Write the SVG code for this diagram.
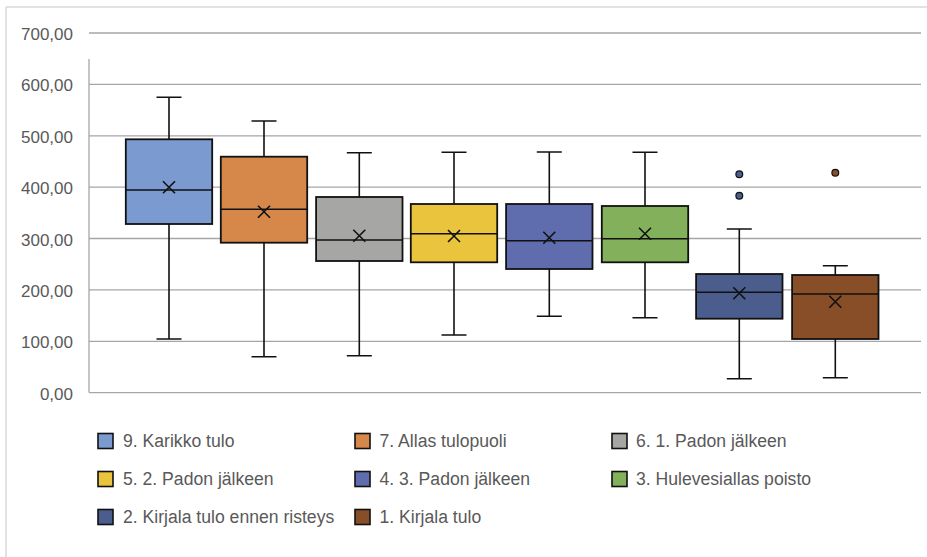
<svg xmlns="http://www.w3.org/2000/svg" width="927" height="557" viewBox="0 0 927 557">
<style>
.frame{stroke:#D9D9D9;stroke-width:1.5;fill:none}
.grid{stroke:#A6A6A6;stroke-width:1.3;fill:none}
.ylab{font-family:"Liberation Sans",Arial,sans-serif;font-size:17px;fill:#595959;text-anchor:end}
.leg{font-family:"Liberation Sans",Arial,sans-serif;font-size:17.6px;fill:#595959}
.box{stroke:#111;stroke-width:1.8}
.wh{stroke:#111;stroke-width:1.6;fill:none}
.med{stroke:#111;stroke-width:1.6}
.mean{stroke:#111;stroke-width:1.6;fill:none}
.out{stroke:#111;stroke-width:1.2}
.sw{stroke:#111;stroke-width:1.6}
.c1{fill:#7B9BD0}.c2{fill:#D6874A}.c3{fill:#A6A6A5}.c4{fill:#E9C43C}
.c5{fill:#5F6DAE}.c6{fill:#83B15B}.c7{fill:#4A5D8D}.c8{fill:#874E27}
</style>
<rect width="927" height="557" fill="#fff"/>
<g id="frame">
<line class="frame" x1="6" y1="7" x2="927" y2="7"/>
<line class="frame" x1="6" y1="7" x2="6" y2="557"/>
</g>
<g id="axis">
<line class="grid" x1="89" y1="33" x2="921" y2="33"/>
<line class="grid" x1="89" y1="84.4" x2="921" y2="84.4"/>
<line class="grid" x1="89" y1="135.8" x2="921" y2="135.8"/>
<line class="grid" x1="89" y1="187.1" x2="921" y2="187.1"/>
<line class="grid" x1="89" y1="238.5" x2="921" y2="238.5"/>
<line class="grid" x1="89" y1="289.9" x2="921" y2="289.9"/>
<line class="grid" x1="89" y1="341.3" x2="921" y2="341.3"/>
<line class="grid" x1="89" y1="392.6" x2="921" y2="392.6"/>
<line class="grid" x1="89" y1="59" x2="89" y2="392.6"/>
<text class="ylab" x="73" y="40">700,00</text>
<text class="ylab" x="73" y="91.4">600,00</text>
<text class="ylab" x="73" y="142.8">500,00</text>
<text class="ylab" x="73" y="194.1">400,00</text>
<text class="ylab" x="73" y="245.5">300,00</text>
<text class="ylab" x="73" y="296.9">200,00</text>
<text class="ylab" x="73" y="348.3">100,00</text>
<text class="ylab" x="73" y="399.6">0,00</text>
</g>
<g id="box-9-karikko-tulo">
<path class="wh" d="M169 139.3V97.3M156.5 97.3H181.5M169 224V339M156.5 339H181.5"/>
<rect class="box c1" x="125.8" y="139.3" width="86.4" height="84.7"/>
<line class="med" x1="125.8" y1="190" x2="212.2" y2="190"/>
<path class="mean" d="M163 181.3L175 193.3M175 181.3L163 193.3"/>
</g>
<g id="box-7-allas-tulopuoli">
<path class="wh" d="M264 156.7V121M251.5 121H276.5M264 242.7V356.7M251.5 356.7H276.5"/>
<rect class="box c2" x="220.8" y="156.7" width="86.4" height="86"/>
<line class="med" x1="220.8" y1="209.3" x2="307.2" y2="209.3"/>
<path class="mean" d="M258 205.7L270 217.7M270 205.7L258 217.7"/>
</g>
<g id="box-6-1-padon-jalkeen">
<path class="wh" d="M359.3 197V152.7M346.8 152.7H371.8M359.3 261V355.7M346.8 355.7H371.8"/>
<rect class="box c3" x="316.1" y="197" width="86.4" height="64"/>
<line class="med" x1="316.1" y1="240" x2="402.5" y2="240"/>
<path class="mean" d="M353.3 229.7L365.3 241.7M365.3 229.7L353.3 241.7"/>
</g>
<g id="box-5-2-padon-jalkeen">
<path class="wh" d="M454 204V152.3M441.5 152.3H466.5M454 262.3V335M441.5 335H466.5"/>
<rect class="box c4" x="410.8" y="204" width="86.4" height="58.3"/>
<line class="med" x1="410.8" y1="233.7" x2="497.2" y2="233.7"/>
<path class="mean" d="M448 230L460 242M460 230L448 242"/>
</g>
<g id="box-4-3-padon-jalkeen">
<path class="wh" d="M549.3 204V152M536.8 152H561.8M549.3 269V316.3M536.8 316.3H561.8"/>
<rect class="box c5" x="506.1" y="204" width="86.4" height="65"/>
<line class="med" x1="506.1" y1="240.7" x2="592.5" y2="240.7"/>
<path class="mean" d="M543.3 231.7L555.3 243.7M555.3 231.7L543.3 243.7"/>
</g>
<g id="box-3-hulevesiallas-poisto">
<path class="wh" d="M645 206V152.3M632.5 152.3H657.5M645 262.3V317.7M632.5 317.7H657.5"/>
<rect class="box c6" x="601.8" y="206" width="86.4" height="56.3"/>
<line class="med" x1="601.8" y1="238.7" x2="688.2" y2="238.7"/>
<path class="mean" d="M639 227.7L651 239.7M651 227.7L639 239.7"/>
</g>
<g id="box-2-kirjala-tulo-ennen-risteys">
<path class="wh" d="M739.3 274V229M726.8 229H751.8M739.3 318.7V378.7M726.8 378.7H751.8"/>
<rect class="box c7" x="696.1" y="274" width="86.4" height="44.7"/>
<line class="med" x1="696.1" y1="292.3" x2="782.5" y2="292.3"/>
<path class="mean" d="M733.3 287.3L745.3 299.3M745.3 287.3L733.3 299.3"/>
<circle class="out c7" cx="739.3" cy="174.3" r="3.4"/>
<circle class="out c7" cx="739.3" cy="195.7" r="3.4"/>
</g>
<g id="box-1-kirjala-tulo">
<path class="wh" d="M835.3 275V265.7M822.8 265.7H847.8M835.3 339V377.7M822.8 377.7H847.8"/>
<rect class="box c8" x="792.1" y="275" width="86.4" height="64"/>
<line class="med" x1="792.1" y1="294" x2="878.5" y2="294"/>
<path class="mean" d="M829.3 295.7L841.3 307.7M841.3 295.7L829.3 307.7"/>
<circle class="out c8" cx="835.3" cy="172.7" r="3.4"/>
</g>
<g id="connectors"></g>
<g id="legend">
<g id="leg-9"><rect class="sw c1" x="98" y="433.5" width="15" height="15"/><text class="leg" x="123" y="447.3">9. Karikko tulo</text></g>
<g id="leg-7"><rect class="sw c2" x="355" y="433.5" width="15" height="15"/><text class="leg" x="379.5" y="447.3">7. Allas tulopuoli</text></g>
<g id="leg-6"><rect class="sw c3" x="612" y="433.5" width="15" height="15"/><text class="leg" x="636" y="447.3">6. 1. Padon jälkeen</text></g>
<g id="leg-5"><rect class="sw c4" x="98" y="471.5" width="15" height="15"/><text class="leg" x="123" y="485.3">5. 2. Padon jälkeen</text></g>
<g id="leg-4"><rect class="sw c5" x="355" y="471.5" width="15" height="15"/><text class="leg" x="379.5" y="485.3">4. 3. Padon jälkeen</text></g>
<g id="leg-3"><rect class="sw c6" x="612" y="471.5" width="15" height="15"/><text class="leg" x="636" y="485.3">3. Hulevesiallas poisto</text></g>
<g id="leg-2"><rect class="sw c7" x="98" y="509.5" width="15" height="15"/><text class="leg" x="123" y="523.3">2. Kirjala tulo ennen risteys</text></g>
<g id="leg-1"><rect class="sw c8" x="355" y="509.5" width="15" height="15"/><text class="leg" x="379.5" y="523.3">1. Kirjala tulo</text></g>
</g>
</svg>
